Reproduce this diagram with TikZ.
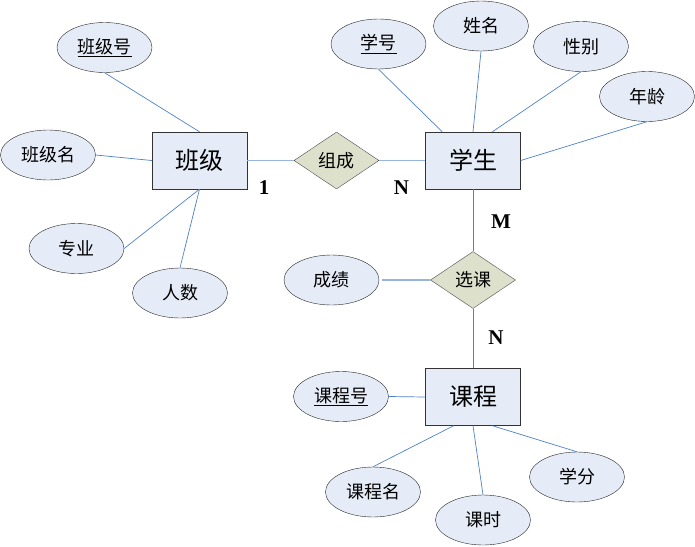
\documentclass[tikz,border=0pt]{standalone}
\usepackage{fontspec}
\setmainfont{Noto Sans CJK SC}
\newfontfamily\latinbf{Liberation Serif}
\usetikzlibrary{shapes.geometric}
\definecolor{attrfill}{RGB}{230,236,247}
\definecolor{relfill}{RGB}{221,224,203}
\definecolor{attrline}{RGB}{79,129,199}
\definecolor{relline}{RGB}{150,180,222}
\begin{document}
\begin{tikzpicture}[x=1pt, y=-1pt,
    entity/.style={draw=black!80, fill=attrfill, minimum width=95pt, minimum height=57pt, inner sep=0pt, font=\fontsize{24}{26}\selectfont},
    attr/.style={ellipse, draw=black!85, fill=attrfill, minimum width=95pt, minimum height=50pt, inner sep=0pt, font=\fontsize{18}{20}\selectfont},
    rel/.style={diamond, draw=black!70, fill=relfill, minimum width=85pt, minimum height=57pt, inner sep=0pt, aspect=1.5, font=\fontsize{18}{20}\selectfont},
    aline/.style={draw=attrline, line width=0.7pt},
    rline/.style={draw=relline, line width=1.6pt},
    card/.style={font=\latinbf\bfseries\fontsize{21}{23}\selectfont}]
    \useasboundingbox (0,0) rectangle (695,546);
    \node[entity] (class) at (199.5,160.5) {班级};
    \node[entity] (student) at (473,160.5) {学生};
    \node[entity] (course) at (473,397) {课程};
    \node[rel] (consist) at (336.5,160.5) {组成};
    \node[rel] (choose) at (473,280) {选课};
    \node[attr] (classno) at (104.5,47.5) {\underline{班级号}};
    \node[attr] (classname) at (48,155) {班级名};
    \node[attr] (major) at (76.5,248.5) {专业};
    \node[attr] (count) at (180,293) {人数};
    \node[attr] (sno) at (378.5,44) {\underline{学号}};
    \node[attr] (sname) at (481,26) {姓名};
    \node[attr] (sex) at (581,46.5) {性别};
    \node[attr] (age) at (647,96.5) {年龄};
    \node[attr] (grade) at (331.5,280) {成绩};
    \node[attr] (cno) at (341,396.5) {\underline{课程号}};
    \node[attr] (cname) at (373,492) {课程名};
    \node[attr] (hours) at (483,520) {课时};
    \node[attr] (credit) at (577,477) {学分};
    \draw[aline] (classno.south) -- (class.north);
    \draw[aline] (classname.east) -- (class.west);
    \draw[aline] (major.east) -- (class.south);
    \draw[aline] (count.north) -- (class.south);
    \draw[aline] (sno.south) -- (student.137);
    \draw[aline] (sname.south) -- (student.north);
    \draw[aline] (sex.south) -- (student.56);
    \draw[aline] (age.south) -- (student.east);
    \draw[aline] (cno.east) -- (course.west);
    \draw[aline] (cname.north) -- (course.236);
    \draw[aline] (hours.north) -- (course.south);
    \draw[aline] (credit.north) -- (course.-56);
    \draw[rline] (class) -- (consist);
    \draw[rline] (consist) -- (student);
    \draw[aline] (student) -- (choose);
    \draw[aline] (choose) -- (course);
    \draw[rline, shorten <=3pt] (grade) -- (choose);
    \node[card] (one) at (264,188) {1};
    \node[card] (nstu) at (401.5,188) {N};
    \node[card] (mstu) at (501,222) {M};
    \node[card] (ncou) at (496,338) {N};
\end{tikzpicture}
\end{document}
